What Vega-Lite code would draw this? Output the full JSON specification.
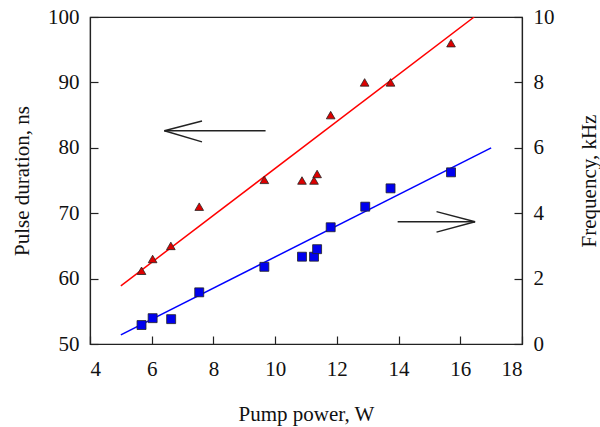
{
  "$schema": "https://vega.github.io/schema/vega-lite/v6.json",
  "width": 432,
  "height": 327,
  "autosize": "none",
  "padding": {"left": 90, "top": 17, "right": 78, "bottom": 83},
  "background": "white",
  "config": {
    "view": {"stroke": "#222", "strokeWidth": 1.2},
    "font": "Liberation Serif",
    "axis": {
      "grid": false,
      "domainColor": "#222",
      "domainWidth": 1.2,
      "tickColor": "#222",
      "tickWidth": 1.2,
      "tickSize": -8,
      "labelFont": "Liberation Serif",
      "labelFontSize": 21,
      "labelColor": "#111",
      "titleFont": "Liberation Serif",
      "titleFontSize": 21,
      "titleFontWeight": "normal",
      "titleColor": "#111"
    }
  },
  "datasets": {
    "pulse": [
      {"power": 5.67, "duration": 61.2},
      {"power": 6.03, "duration": 63.0},
      {"power": 6.62, "duration": 65.0},
      {"power": 7.54, "duration": 71.0},
      {"power": 9.65, "duration": 75.1},
      {"power": 10.87, "duration": 75.0},
      {"power": 11.26, "duration": 75.0},
      {"power": 11.36, "duration": 76.0},
      {"power": 11.8, "duration": 85.0},
      {"power": 12.9, "duration": 90.0},
      {"power": 13.74, "duration": 90.0},
      {"power": 15.7, "duration": 96.0}
    ],
    "freq": [
      {"power": 5.67, "frequency": 0.58},
      {"power": 6.03, "frequency": 0.79},
      {"power": 6.63, "frequency": 0.76},
      {"power": 7.54, "frequency": 1.58},
      {"power": 9.65, "frequency": 2.36},
      {"power": 10.87, "frequency": 2.67},
      {"power": 11.26, "frequency": 2.67},
      {"power": 11.36, "frequency": 2.9},
      {"power": 11.8, "frequency": 3.57},
      {"power": 12.92, "frequency": 4.2},
      {"power": 13.74, "frequency": 4.76},
      {"power": 15.7, "frequency": 5.25}
    ],
    "pulseFit": [
      {"power": 5.0, "duration": 58.9},
      {"power": 16.45, "duration": 100.0}
    ],
    "freqFit": [
      {"power": 5.0, "frequency": 0.28},
      {"power": 17.0, "frequency": 6.0}
    ],
    "leftArrow": [
      {"x1": 9.69, "y1": 82.6, "x2": 6.41, "y2": 82.6},
      {"x1": 6.41, "y1": 82.6, "x2": 7.63, "y2": 84.1},
      {"x1": 6.41, "y1": 82.6, "x2": 7.63, "y2": 80.9}
    ],
    "rightArrow": [
      {"x1": 13.97, "y1": 3.74, "x2": 16.48, "y2": 3.74},
      {"x1": 16.48, "y1": 3.74, "x2": 15.23, "y2": 4.05},
      {"x1": 16.48, "y1": 3.74, "x2": 15.23, "y2": 3.42}
    ]
  },
  "layer": [
    {
      "layer": [
        {
          "data": {"name": "pulseFit"},
          "mark": {"type": "line", "color": "#ff0000", "strokeWidth": 1.5, "clip": true},
          "encoding": {
            "x": {
              "field": "power", "type": "quantitative",
              "scale": {"domain": [4, 18], "nice": false, "zero": false},
              "axis": {
                "values": [4, 6, 8, 10, 12, 14, 16, 18],
                "labelPadding": 22,
                "title": "Pump power, W",
                "titleBaseline": "alphabetic",
                "titleY": 76
              }
            },
            "y": {
              "field": "duration", "type": "quantitative",
              "scale": {"domain": [50, 100], "nice": false, "zero": false},
              "axis": {
                "orient": "left",
                "values": [50, 60, 70, 80, 90, 100],
                "labelPadding": 19,
                "title": "Pulse duration, ns",
                "titleAngle": -90,
                "titleBaseline": "alphabetic",
                "titleX": -62,
                "titleY": 163.5
              }
            }
          }
        },
        {
          "data": {"name": "pulse"},
          "mark": {"type": "point", "shape": "triangle-up", "filled": true, "fill": "#dd0000", "stroke": "#222", "strokeWidth": 0.8, "size": 75, "opacity": 1},
          "encoding": {
            "x": {"field": "power", "type": "quantitative"},
            "y": {"field": "duration", "type": "quantitative"}
          }
        },
        {
          "data": {"name": "leftArrow"},
          "mark": {"type": "rule", "color": "#222", "strokeWidth": 1.4},
          "encoding": {
            "x": {"field": "x1", "type": "quantitative"},
            "y": {"field": "y1", "type": "quantitative"},
            "x2": {"field": "x2"},
            "y2": {"field": "y2"}
          }
        }
      ]
    },
    {
      "layer": [
        {
          "data": {"name": "freqFit"},
          "mark": {"type": "line", "color": "#0000ff", "strokeWidth": 1.5, "clip": true},
          "encoding": {
            "x": {"field": "power", "type": "quantitative"},
            "y": {
              "field": "frequency", "type": "quantitative",
              "scale": {"domain": [0, 10], "nice": false},
              "axis": {
                "orient": "right",
                "values": [0, 2, 4, 6, 8, 10],
                "labelPadding": 19,
                "title": "Frequency, kHz",
                "titleAngle": -90,
                "titleBaseline": "alphabetic",
                "titleX": 73,
                "titleY": 163.5
              }
            }
          }
        },
        {
          "data": {"name": "freq"},
          "mark": {"type": "point", "shape": "square", "filled": true, "fill": "#0000ee", "stroke": "#222", "strokeWidth": 0.8, "size": 80, "opacity": 1},
          "encoding": {
            "x": {"field": "power", "type": "quantitative"},
            "y": {"field": "frequency", "type": "quantitative"}
          }
        },
        {
          "data": {"name": "rightArrow"},
          "mark": {"type": "rule", "color": "#222", "strokeWidth": 1.4},
          "encoding": {
            "x": {"field": "x1", "type": "quantitative"},
            "y": {"field": "y1", "type": "quantitative"},
            "x2": {"field": "x2"},
            "y2": {"field": "y2"}
          }
        }
      ]
    }
  ],
  "resolve": {"scale": {"y": "independent"}}
}
